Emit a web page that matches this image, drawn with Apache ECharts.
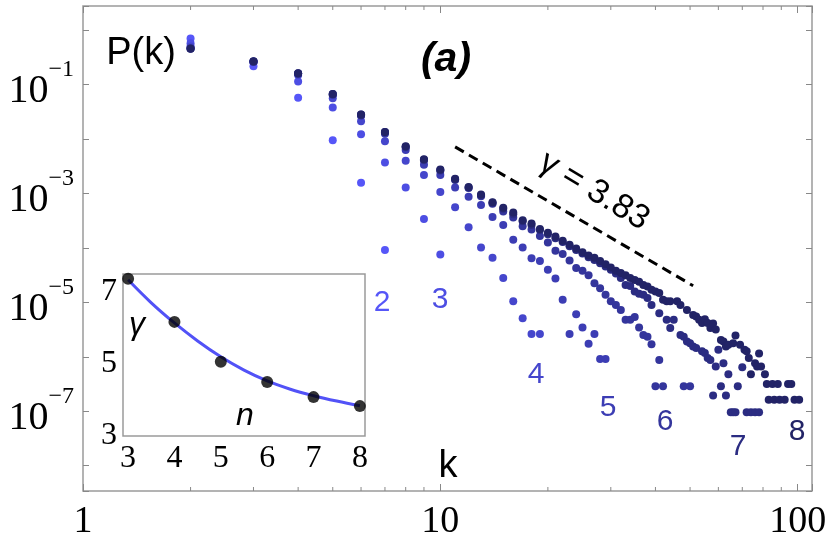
<!DOCTYPE html>
<html>
<head>
<meta charset="utf-8">
<script src="https://cdn.jsdelivr.net/npm/echarts@6/dist/echarts.min.js"></script>
<style>
  html, body { margin: 0; padding: 0; background: #fff; }
  #main { width: 830px; height: 546px; }
</style>
</head>
<body>
<div id="main"></div>
<script>
// degree distributions, one list per n: [k, log10 P(k)]
var n2 = [[2,-0.15],[3,-0.66],[4,-1.24],[5,-2.02],[6,-2.80],[7,-4.04]];
var n3 = [[2,-0.24],[3,-0.58],[4,-0.94],[5,-1.42],[6,-1.91],[7,-2.43],[8,-2.89],[9,-3.47],[10,-4.12]];
var n4 = [[2,-0.30],[3,-0.58],[4,-0.82],[5,-1.25],[6,-1.67],[7,-2.04],[8,-2.40],[9,-2.66],[10,-2.97],
  [11,-3.25],[12,-3.62],[13,-3.99],[14,-4.18],[15,-4.55],[16,-4.98],[17,-5.29],[18,-5.58],[19,-5.58]];
var n5 = [[2,-0.33],[3,-0.58],[4,-0.80],[5,-1.19],[6,-1.57],[7,-1.90],[8,-2.20],[9,-2.47],[10,-2.66],
  [11,-2.89],[12,-3.06],[13,-3.21],[14,-3.43],[15,-3.58],[16,-3.85],[17,-3.99],[18,-4.19],[19,-4.24],[20,-4.40],
  [21,-4.56],[22,-4.95],[23,-5.58],[24,-5.22],[25,-5.46],[26,-5.76],[27,-5.58],[28,-6.04],[29,-6.04]];
var n6 = [[2,-0.335],[3,-0.58],[4,-0.79],[5,-1.17],[6,-1.55],[7,-1.87],[8,-2.15],[9,-2.39],[10,-2.58],
  [11,-2.75],[12,-2.90],[13,-3.05],[14,-3.19],[15,-3.33],[16,-3.44],[17,-3.60],[18,-3.66],[19,-3.78],[20,-3.90],
  [21,-4.05],[22,-4.11],[23,-4.23],[24,-4.37],[25,-4.42],[26,-4.50],[27,-4.65],[28,-4.74],[29,-4.86],[30,-4.98],
  [31,-5.05],[32,-5.14],[33,-5.32],[34,-5.32],[35,-5.27],[36,-5.46],[37,-5.60],[38,-5.63],[39,-5.77],[40,-6.54],
  [41,-6.06],[42,-6.54],[48,-6.54],[50,-6.54]];
var n7 = [[2,-0.335],[3,-0.575],[4,-0.80],[5,-1.18],[6,-1.56],[7,-1.88],[8,-2.14],[9,-2.38],[10,-2.57],
  [11,-2.74],[12,-2.89],[13,-3.03],[14,-3.17],[15,-3.28],[16,-3.38],[17,-3.51],[18,-3.58],[19,-3.67],[20,-3.75],
  [21,-3.82],[22,-3.89],[23,-3.97],[24,-4.04],[25,-4.10],[26,-4.17],[27,-4.22],[28,-4.28],[29,-4.34],[30,-4.40],
  [31,-4.47],[32,-4.55],[33,-4.68],[34,-4.70],[35,-4.80],[36,-4.84],[37,-4.86],[38,-4.92],[39,-5.05],[41,-5.20],
  [43,-5.32],[44,-5.47],[45,-5.32],[47,-5.60],[48,-5.63],[49,-5.72],[50,-5.75],[51,-5.81],[52,-5.84],[54,-5.90],
  [55,-5.93],[56,-6.02],[57,-6.06],[58,-6.71],[59,-6.18],[60,-5.87],[61,-6.54],[62,-6.12],[63,-6.71],[64,-6.32],
  [65,-7.02],[66,-7.02],[67,-7.02],[68,-6.54],[70,-6.19],[72,-7.02],[74,-7.02],[76,-7.02],[78,-7.02]];
var n8 = [[2,-0.34],[3,-0.57],[4,-0.79],[5,-1.17],[6,-1.55],[7,-1.87],[8,-2.13],[9,-2.37],[10,-2.56],
  [11,-2.73],[12,-2.88],[13,-3.02],[14,-3.16],[15,-3.26],[16,-3.35],[17,-3.49],[18,-3.55],[19,-3.65],[20,-3.72],
  [21,-3.79],[22,-3.87],[23,-3.94],[24,-4.01],[25,-4.08],[26,-4.14],[27,-4.18],[28,-4.24],[29,-4.30],[30,-4.36],
  [31,-4.42],[32,-4.46],[33,-4.50],[34,-4.55],[35,-4.59],[36,-4.62],[37,-4.68],[38,-4.71],[39,-4.77],[40,-4.80],
  [41,-4.83],[42,-4.95],[43,-4.98],[44,-4.98],[46,-4.98],[47,-5.05],[49,-5.14],[51,-5.23],[52,-5.26],[53,-5.32],
  [54,-5.38],[55,-5.31],[56,-5.38],[57,-5.47],[58,-5.39],[59,-5.50],[61,-5.69],[62,-5.72],[63,-5.81],[64,-5.78],
  [66,-5.75],[67,-5.61],[69,-5.78],[71,-5.87],[72,-5.90],[73,-6.02],[74,-6.32],[76,-6.12],[77,-6.18],[78,-5.94],
  [79,-6.18],[81,-6.32],[82,-6.50],[83,-6.79],[85,-6.50],[86,-6.79],[88,-6.50],[89,-6.79],[92,-6.79],[94,-6.50],
  [96,-6.50],[98,-6.79],[101,-6.79]];

var seriesLists = [n2, n3, n4, n5, n6, n7, n8];
var seriesNames = ['2', '3', '4', '5', '6', '7', '8'];

// reference slope line, gamma = 3.83
var slopeLine = [[11, 7.2e-3], [51, 2.02e-5]];

// inset: exponent gamma vs n
var insetN = [3, 4, 5, 6, 7, 8];
var insetGamma = [7.37, 6.17, 5.06, 4.50, 4.08, 3.83];
var fitN = [3, 3.5, 4, 4.5, 5, 5.5, 6, 6.5, 7, 7.5, 8];
var fitGamma = [7.34, 6.70, 6.14, 5.64, 5.20, 4.83, 4.53, 4.30, 4.12, 3.97, 3.84];

// tick labels
var xLabelValues = [1, 10, 100];
var yLabelExps = [-1, -3, -5, -7];
var insetXLabels = [3, 4, 5, 6, 7, 8];
var insetYLabels = [3, 5, 7];
var minorK = [2, 3, 4, 5, 6, 7, 8, 9, 20, 30, 40, 50, 60, 70, 80, 90];

var colors = ['#5656f8', '#4d4ee3', '#4546cc', '#3c3db4', '#34359c', '#2b2c82', '#222366'];
var labelPos = [[382, 303], [440, 300], [536, 375], [608, 408], [665, 422], [738, 447], [797, 432]];

var X_MIN = 1, X_MAX = 109.7;
var Y_MIN = 3.42e-9, Y_MAX = 2.79;
var frame = '#9a9a9a';

var insetTicks = [];
for (var t = 3; t <= 8.001; t += 0.2) insetTicks.push(Math.round(t * 10) / 10);

function xFmt(v) {
  for (var i = 0; i < xLabelValues.length; i++) {
    if (Math.abs(v - xLabelValues[i]) < 1e-6 * xLabelValues[i]) return String(xLabelValues[i]);
  }
  return '';
}
function yFmt(v) {
  var e = Math.log10(v), r = Math.round(e);
  if (Math.abs(e - r) > 1e-6 || yLabelExps.indexOf(r) < 0) return '';
  return '{b|10}{e|\u2212' + (-r) + '}';
}

var chart = echarts.init(document.getElementById('main'));

var series = [{
  type: 'custom',
  xAxisIndex: 0, yAxisIndex: 0,
  silent: true,
  data: minorK.map(function (k) { return [k, Y_MIN]; }),
  renderItem: function (params, api) {
    var k = api.value(0);
    var b = api.coord([k, Y_MIN]);
    var t = api.coord([k, Y_MAX]);
    var st = { stroke: '#888', lineWidth: 1 };
    return { type: 'group', children: [
      { type: 'line', shape: { x1: b[0], y1: b[1], x2: b[0], y2: b[1] - 4 }, style: st },
      { type: 'line', shape: { x1: t[0], y1: t[1], x2: t[0], y2: t[1] + 4 }, style: st }
    ]};
  }
}];

seriesLists.forEach(function (list, i) {
  series.push({
    name: seriesNames[i],
    type: 'scatter',
    xAxisIndex: 0, yAxisIndex: 0,
    symbolSize: 8,
    itemStyle: { color: colors[i], opacity: 1 },
    data: list.map(function (p) { return [p[0], Math.pow(10, p[1])]; }),
    z: 3 + i
  });
});

series.push({
  type: 'line',
  xAxisIndex: 0, yAxisIndex: 0,
  data: slopeLine,
  symbol: 'none',
  lineStyle: { color: '#000', width: 3, type: [10, 6] },
  z: 20
});

series.push({
  type: 'line',
  xAxisIndex: 2, yAxisIndex: 2,
  data: fitN.map(function (n, i) { return [n, fitGamma[i]]; }),
  smooth: 0.4,
  symbol: 'none',
  lineStyle: { color: '#5252f7', width: 3 },
  z: 30
});
series.push({
  type: 'scatter',
  xAxisIndex: 2, yAxisIndex: 2,
  data: insetN.map(function (n, i) { return [n, insetGamma[i]]; }),
  symbolSize: 12,
  itemStyle: { color: '#000' },
  clip: false,
  z: 31
});

var graphics = [
  { type: 'text', x: 141, y: 54, style: { text: 'P(k)', font: '38px "Liberation Sans"', fill: '#000', align: 'center', verticalAlign: 'middle' } },
  { type: 'text', x: 446, y: 60, style: { text: '(a)', font: 'italic bold 41px "Liberation Sans"', fill: '#000', align: 'center', verticalAlign: 'middle' } },
  { type: 'text', x: 448, y: 467, style: { text: 'k', font: '38px "Liberation Sans"', fill: '#000', align: 'center', verticalAlign: 'middle' } },
  { type: 'text', x: 594, y: 191, rotation: -31 * Math.PI / 180, style: { text: '\u03b3 = 3.83', font: '34px "Liberation Sans"', fill: '#000', align: 'center', verticalAlign: 'middle' }, z: 50 },
  { type: 'text', x: 137, y: 325, style: { text: '\u03b3', font: 'italic 32px "Liberation Sans"', fill: '#000', align: 'center', verticalAlign: 'middle' }, z: 50 },
  { type: 'text', x: 245, y: 416, style: { text: 'n', font: 'italic 32px "Liberation Sans"', fill: '#000', align: 'center', verticalAlign: 'middle' }, z: 50 }
];
seriesNames.forEach(function (s, i) {
  graphics.push({ type: 'text', x: labelPos[i][0], y: labelPos[i][1],
    style: { text: s, font: '30px "Liberation Sans"', fill: colors[i], align: 'center', verticalAlign: 'middle' }, z: 50 });
});

var logAxisCommon = {
  type: 'log', logBase: 10,
  axisLine: { show: false },
  splitLine: { show: false },
  minorTick: { show: false }
};

chart.setOption({
  animation: false,
  backgroundColor: '#fff',
  grid: [
    { left: 83, top: 6, width: 729, height: 485, show: true, borderColor: frame, borderWidth: 1.5, backgroundColor: 'transparent' },
    { left: 123, top: 274, width: 242, height: 162, show: true, borderColor: frame, borderWidth: 1.5, backgroundColor: '#fff', z: 10 }
  ],
  xAxis: [
    Object.assign({}, logAxisCommon, {
      gridIndex: 0, position: 'bottom', min: X_MIN, max: X_MAX,
      axisTick: { show: true, inside: true, length: 7, lineStyle: { color: '#888' } },
      axisLabel: { formatter: xFmt, margin: 12, color: '#000', fontFamily: 'Liberation Serif', fontSize: 38 }
    }),
    Object.assign({}, logAxisCommon, {
      gridIndex: 0, position: 'top', min: X_MIN, max: X_MAX,
      axisTick: { show: true, inside: true, length: 7, lineStyle: { color: '#888' } },
      axisLabel: { show: false }
    }),
    {
      type: 'value', gridIndex: 1, min: 2.89, max: 8.11,
      axisLine: { show: false }, splitLine: { show: false },
      axisTick: { show: true, inside: true, length: 4, customValues: insetTicks, lineStyle: { color: '#666' } },
      axisLabel: { customValues: insetXLabels, margin: 7, color: '#000', fontFamily: 'Liberation Serif', fontSize: 32 }
    }
  ],
  yAxis: [
    Object.assign({}, logAxisCommon, {
      gridIndex: 0, position: 'left', min: Y_MIN, max: Y_MAX,
      axisTick: { show: true, inside: true, length: 6, lineStyle: { color: '#888' } },
      axisLabel: {
        formatter: yFmt, margin: 9, color: '#000',
        rich: {
          b: { fontFamily: 'Liberation Serif', fontSize: 40, lineHeight: 54, verticalAlign: 'bottom', color: '#000' },
          e: { fontFamily: 'Liberation Serif', fontSize: 24, lineHeight: 24, verticalAlign: 'top', color: '#000' }
        }
      }
    }),
    Object.assign({}, logAxisCommon, {
      gridIndex: 0, position: 'right', min: Y_MIN, max: Y_MAX,
      axisTick: { show: true, inside: true, length: 6, lineStyle: { color: '#888' } },
      axisLabel: { show: false }
    }),
    {
      type: 'value', gridIndex: 1, min: 3, max: 7.5,
      axisLine: { show: false }, splitLine: { show: false },
      axisTick: { show: false },
      axisLabel: { customValues: insetYLabels, margin: 6, color: '#000', fontFamily: 'Liberation Serif', fontSize: 32 }
    }
  ],
  graphic: graphics,
  series: series
});
</script>
</body>
</html>
